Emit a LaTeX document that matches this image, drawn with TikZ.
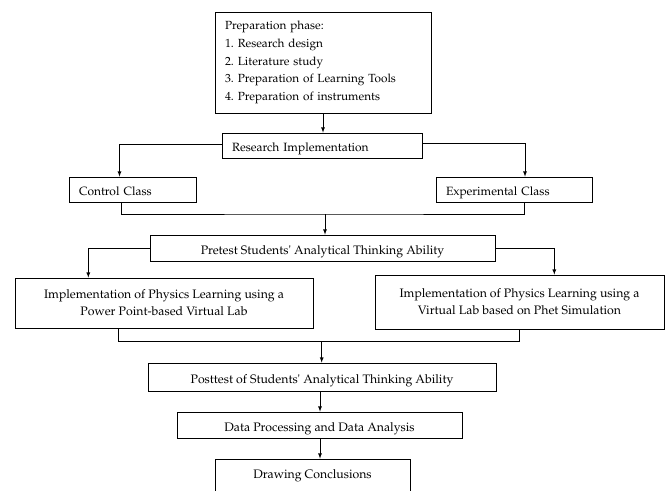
\documentclass[tikz,border=0pt]{standalone}
\usepackage[T1]{fontenc}
\renewcommand{\rmdefault}{ppl}
\usepackage{tikz}
\usetikzlibrary{positioning}
\usetikzlibrary{arrows,shapes}
\usetikzlibrary{calc}
\frenchspacing
\tikzstyle{stagebox}=[rectangle,draw,line width=0.8pt,inner sep=0pt,align=center,font=\fontsize{12.3}{17}\selectfont]
\tikzstyle{leftbox}=[rectangle,draw,line width=0.8pt,inner xsep=10pt,inner ysep=0pt,align=left,font=\fontsize{12}{17}\selectfont]
\tikzstyle{lowtext}=[text height=15pt,text depth=3pt]
\tikzstyle{edge} = [draw,line width=0.8pt,-latex]
\tikzstyle{joinline} = [draw,line width=0.8pt]

\begin{document}
\begin{tikzpicture}[x=1pt,y=-1pt]

  \useasboundingbox (0,0) rectangle (671,490);

  % boxes with the text on the left
  \node[leftbox,minimum width=216pt,minimum height=101pt,text width=196pt,font=\fontsize{11.8}{17.7}\selectfont] (prep) at (323,62.5)
     {Preparation phase:\\ 1. Research design\\ 2. Literature study\\ 3. Preparation of Learning Tools\\ 4. Preparation of instruments};

   \foreach \x/\y/\w/\h/\name/\label in { 322/145.5/200/25/research/{Research Implementation}, 132.5/189.5/127/25/control/{Control Class}, 514/189.5/156/25/experiment/{Experimental Class}}
          \node[leftbox,lowtext,minimum width=\w pt,minimum height=\h pt,text width=\w pt-20pt] (\name) at (\x,\y) {\label};

  % centred boxes
   \foreach \x/\y/\w/\h/\name/\label in { 322.5/248/345/26/pretest/{Pretest Students\textquotesingle\ Analytical Thinking Ability},
        322/377/348/28/posttest/{Posttest of Students\textquotesingle\ Analytical Thinking Ability},
        319.5/425/285/26/analysis/{Data Processing and Data Analysis}}
          \node[stagebox,lowtext,minimum width=\w pt,minimum height=\h pt] (\name) at (\x,\y) {\label};

   \foreach \x/\y/\w/\h/\name/\label in { 164/303/298/50/virtuallab/{Implementation of Physics Learning using a\\ Power Point-based Virtual Lab},
        519.5/302/289/54/phetlab/{Implementation of Physics Learning using a\\ Virtual Lab based on Phet Simulation}}
          \node[stagebox,minimum width=\w pt,minimum height=\h pt] (\name) at (\x,\y) {\label};

  \node[stagebox,minimum width=195pt,minimum height=42pt,text depth=12pt] (conclusion) at (312.5,480) {Drawing Conclusions};

  % connectors
  \path[edge] (prep.south) -- (prep.south |- research.north);
  \path[edge] ([yshift=1.5pt]research.west) -| ([xshift=-13pt]control.north);
  \path[edge] ([yshift=2pt]research.east) -| ([xshift=11pt]experiment.north);

  \coordinate (join1) at (325,214);
  \path[joinline] ([xshift=-11pt]control.south) |- (join1) -| ([xshift=10pt]experiment.south);
  \path[edge] (join1) -- (join1 |- pretest.north);

  \path[edge] (pretest.west) -| ([xshift=-75.7pt]virtuallab.north);
  \path[edge] (pretest.east) -| ([xshift=34.8pt]phetlab.north);

  \coordinate (join2) at (321.7,341.7);
  \path[joinline] ([xshift=-46pt]virtuallab.south) |- (join2) -| (phetlab.south);
  \path[edge] (join2) -- (join2 |- posttest.north);

  \path[edge] (posttest.south -| 320,0) -- (analysis.north -| 320,0);
  \path[edge] (analysis.south -| 320,0) -- (conclusion.north -| 320,0);

\end{tikzpicture}
\end{document}
